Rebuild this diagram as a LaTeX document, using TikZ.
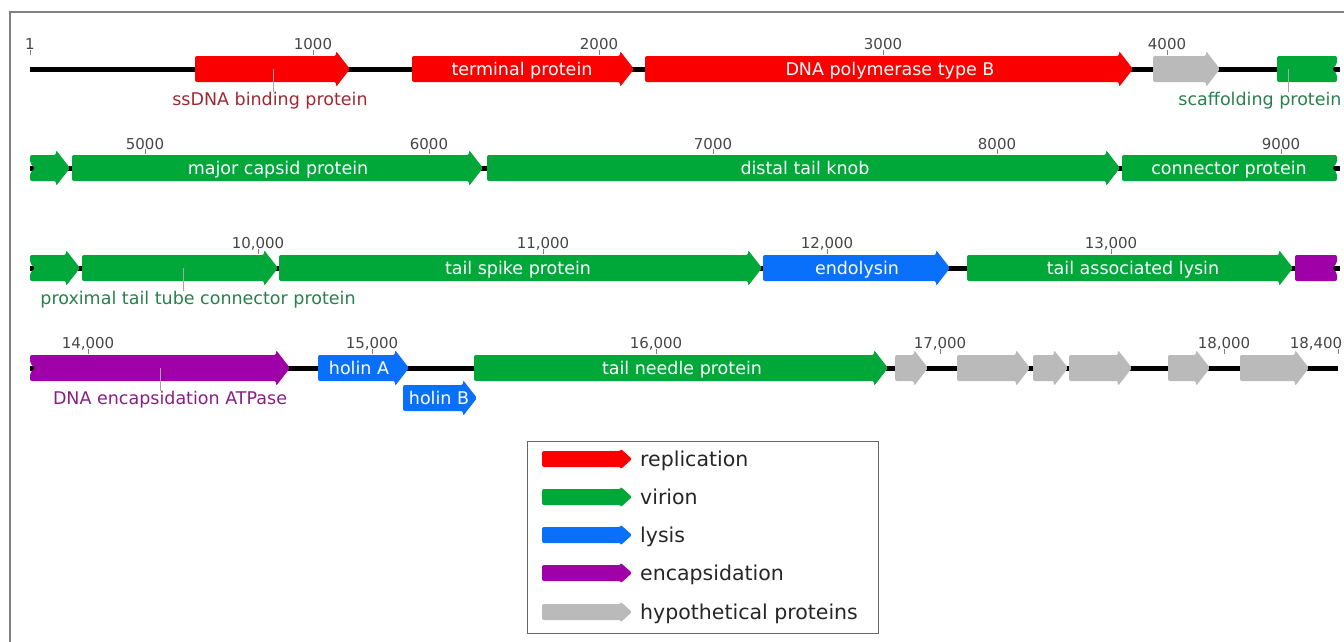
\documentclass[tikz,border=0pt]{standalone}
\usepackage{fontspec}
\setmainfont{DejaVu Sans}
\definecolor{repl}{RGB}{250,0,0}
\definecolor{vir}{RGB}{0,168,58}
\definecolor{lys}{RGB}{8,112,250}
\definecolor{enc}{RGB}{160,0,168}
\definecolor{hyp}{RGB}{186,186,186}
\definecolor{replText}{RGB}{160,40,50}
\definecolor{virText}{RGB}{40,128,76}
\definecolor{encText}{RGB}{135,30,135}
\definecolor{tickText}{RGB}{70,70,70}
% gene arrow: x start, x tip, y of backbone, colour
\newcommand{\gene}[4]{\fill[#4, rounded corners=2pt] (#1,#3-13) -- (#2-14,#3-13) -- (#2-14,#3-18) -- (#2,#3) -- (#2-14,#3+18) -- (#2-14,#3+13) -- (#1,#3+13) -- cycle;}
% gene continued from the row above (notched left end)
\newcommand{\genein}[4]{\fill[#4, rounded corners=2pt] (#1,#3-13) -- (#2-14,#3-13) -- (#2-14,#3-18) -- (#2,#3) -- (#2-14,#3+18) -- (#2-14,#3+13) -- (#1,#3+13) -- (#1,#3+5) -- (#1+5,#3) -- (#1,#3-5) -- cycle;}
% gene continued on the row below (notched right end)
\newcommand{\geneout}[4]{\fill[#4, rounded corners=2pt] (#1,#3-13) -- (#2,#3-13) -- (#2,#3-5) -- (#2-5,#3) -- (#2,#3+5) -- (#2,#3+13) -- (#1,#3+13) -- cycle;}
\begin{document}
\begin{tikzpicture}[x=1pt,y=-1pt,
	backbone/.style={line width=5pt, black},
	tickmark/.style={line width=0.8pt, gray},
	ticklabel/.style={text=tickText, font=\fontsize{15}{17}\selectfont, inner sep=0pt},
	inlabel/.style={text=white, font=\fontsize{17.5}{20}\selectfont, inner sep=0pt, anchor=base},
	outlabel/.style={font=\fontsize{17.5}{20}\selectfont, inner sep=0pt, anchor=north},
	leader/.style={line width=0.8pt, gray!70},
	legendtext/.style={text=black!85, font=\fontsize{20.5}{23}\selectfont, inner sep=0pt, anchor=base west}]
	\useasboundingbox (0,0) rectangle (1344,641);
	\clip (0,0) rectangle (1344,641);
	\draw [gray, line width=1.5pt] (10,700) -- (10,12) -- (1360,12);
	% backbones
	\draw [backbone] (30,69) -- (1340,69);
	\draw [backbone] (30,168) -- (1340,168);
	\draw [backbone] (30,268) -- (1340,268);
	\draw [backbone] (30,368) -- (1338,368);
	% scale
	\foreach \x/\t in {30/1, 313/1000, 599/2000, 883/3000, 1167/4000} {
		\draw [tickmark] (\x,69-19) -- (\x,69-14);
		\node [ticklabel] at (\x,69-25) {\t};
	}
	\foreach \x/\t in {145/5000, 429/6000, 713/7000, 997/8000, 1281/9000} {
		\draw [tickmark] (\x,168-19) -- (\x,168-14);
		\node [ticklabel] at (\x,168-24) {\t};
	}
	\foreach \x/\t in {258/{10,000}, 543/{11,000}, 827/{12,000}, 1111/{13,000}} {
		\draw [tickmark] (\x,268-19) -- (\x,268-14);
		\node [ticklabel] at (\x,268-24) {\t};
	}
	\foreach \x/\t in {88/{14,000}, 372/{15,000}, 656/{16,000}, 940/{17,000}, 1224/{18,000}} {
		\draw [tickmark] (\x,368-19) -- (\x,368-14);
		\node [ticklabel] at (\x,368-24) {\t};
	}
	\draw [tickmark] (1338,368-19) -- (1338,368-14);
	\node [ticklabel] at (1316,368-24) {18,400};
	% row 1
	\gene{195}{350}{69}{repl}
	\gene{412}{634}{69}{repl}
	\gene{645}{1133}{69}{repl}
	\gene{1153}{1220}{69}{hyp}
	\geneout{1277}{1337}{69}{vir}
	\node [inlabel] (termprot) at (522,69+6) {terminal protein};
	\node [inlabel] (dnapol) at (890,69+6) {DNA polymerase type B};
	\coordinate (ssdnaC) at (273,69);
	\node [outlabel, text=replText] (ssdna) at (270,92) {ssDNA binding protein};
	\draw [leader] (ssdnaC) -- (ssdnaC |- ssdna.north);
	\coordinate (scaffC) at (1288,69);
	\node [outlabel, text=virText] (scaff) at (1260,92) {scaffolding protein};
	\draw [leader] (scaffC) -- (scaffC |- scaff.north);
	% row 2
	\genein{30}{70}{168}{vir}
	\gene{72}{483}{168}{vir}
	\gene{487}{1120}{168}{vir}
	\geneout{1122}{1337}{168}{vir}
	\node [inlabel] (capsid) at (278,168+6) {major capsid protein};
	\node [inlabel] (knob) at (805,168+6) {distal tail knob};
	\node [inlabel] (connector) at (1229,168+6) {connector protein};
	% row 3
	\genein{30}{80}{268}{vir}
	\gene{82}{278}{268}{vir}
	\gene{279}{762}{268}{vir}
	\gene{763}{950}{268}{lys}
	\gene{967}{1293}{268}{vir}
	\geneout{1295}{1337}{268}{enc}
	\node [inlabel] (spike) at (518,268+6) {tail spike protein};
	\node [inlabel] (endolysin) at (857,268+6) {endolysin};
	\node [inlabel] (taillysin) at (1133,268+6) {tail associated lysin};
	\coordinate (tubeC) at (183,268);
	\node [outlabel, text=virText] (tube) at (198,291) {proximal tail tube connector protein};
	\draw [leader] (tubeC) -- (tubeC |- tube.north);
	% row 4
	\genein{30}{290}{368}{enc}
	\gene{318}{409}{368}{lys}
	\gene{403}{477}{398}{lys}
	\gene{474}{888}{368}{vir}
	\gene{895}{928}{368}{hyp}
	\gene{957}{1030}{368}{hyp}
	\gene{1033}{1068}{368}{hyp}
	\gene{1069}{1132}{368}{hyp}
	\gene{1168}{1210}{368}{hyp}
	\gene{1240}{1309}{368}{hyp}
	\node [inlabel] (holinA) at (359,368+6) {holin A};
	\node [inlabel] (holinB) at (439,398+6) {holin B};
	\node [inlabel] (needle) at (682,368+6) {tail needle protein};
	\coordinate (atpaseC) at (160,368);
	\node [outlabel, text=encText] (atpase) at (170,391) {DNA encapsidation ATPase};
	\draw [leader] (atpaseC) -- (atpaseC |- atpase.north);
	% legend
	\draw [gray!80!black, line width=1pt] (527,441) rectangle (878,633);
	\foreach \y/\c/\t [count=\i] in {459/repl/replication, 497/vir/virion, 535/lys/lysis, 573/enc/encapsidation, 612/hyp/hypothetical proteins} {
		\fill [\c, rounded corners=2pt] (542,\y-8) -- (621,\y-8) -- (621,\y-10) -- (632,\y) -- (621,\y+10) -- (621,\y+8) -- (542,\y+8) -- cycle;
		\node [legendtext] (leg\i) at (640,\y+7) {\t};
	}
\end{tikzpicture}
\end{document}
